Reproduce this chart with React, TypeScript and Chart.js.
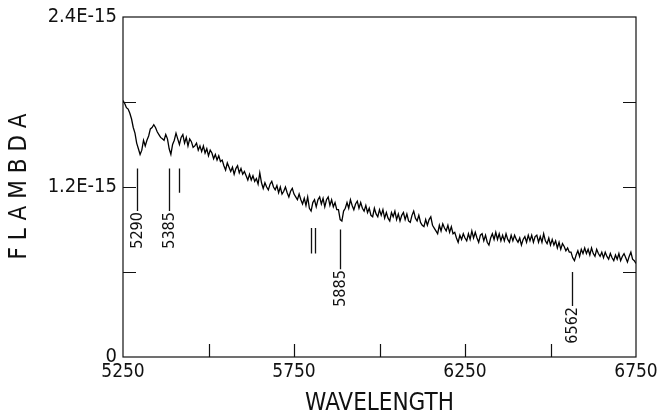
import { useEffect, useRef } from "react";
import { Chart, registerables } from "chart.js";

Chart.register(...registerables);

// Wavelength grid (Angstrom), 5 A step from 5250 to 6750
const WL_START = 5250;
const WL_STEP = 5;

// FLAMBDA values in units of 1E-15 (one row = 100 A)
const FLUX = [
  1.81, 1.79, 1.76, 1.75, 1.72, 1.68, 1.62, 1.58, 1.51, 1.47, 1.43, 1.46, 1.53, 1.49, 1.53, 1.56, 1.61, 1.62, 1.64, 1.62,
  1.59, 1.57, 1.55, 1.54, 1.53, 1.57, 1.54, 1.47, 1.43, 1.50, 1.53, 1.58, 1.54, 1.50, 1.55, 1.57, 1.51, 1.55, 1.49, 1.54,
  1.52, 1.48, 1.49, 1.51, 1.46, 1.49, 1.45, 1.49, 1.44, 1.47, 1.42, 1.46, 1.44, 1.40, 1.43, 1.39, 1.42, 1.38, 1.39, 1.35,
  1.32, 1.37, 1.34, 1.31, 1.34, 1.29, 1.33, 1.35, 1.30, 1.33, 1.29, 1.31, 1.28, 1.25, 1.29, 1.25, 1.28, 1.24, 1.26, 1.22,
  1.30, 1.23, 1.19, 1.23, 1.20, 1.18, 1.22, 1.24, 1.20, 1.18, 1.21, 1.16, 1.20, 1.15, 1.17, 1.20, 1.16, 1.13, 1.17, 1.19,
  1.15, 1.13, 1.11, 1.15, 1.11, 1.08, 1.12, 1.07, 1.13, 1.05, 1.03, 1.09, 1.11, 1.06, 1.11, 1.13, 1.08, 1.12, 1.06, 1.11,
  1.13, 1.07, 1.11, 1.06, 1.09, 1.04, 1.04, 0.97, 0.96, 1.03, 1.05, 1.09, 1.05, 1.11, 1.07, 1.04, 1.08, 1.10, 1.05, 1.09,
  1.05, 1.03, 1.07, 1.02, 1.05, 1.00, 0.99, 1.05, 1.01, 0.99, 1.04, 1.00, 1.04, 0.98, 1.02, 0.98, 0.96, 1.02, 0.99, 1.03,
  0.97, 1.01, 0.96, 1.00, 1.02, 0.97, 1.01, 0.96, 0.95, 1.00, 1.03, 0.98, 0.96, 1.00, 0.95, 0.93, 0.92, 0.97, 0.93, 0.97,
  0.99, 0.93, 0.91, 0.89, 0.87, 0.93, 0.89, 0.94, 0.91, 0.89, 0.93, 0.88, 0.92, 0.87, 0.88, 0.84, 0.81, 0.86, 0.83, 0.87,
  0.84, 0.82, 0.87, 0.83, 0.89, 0.84, 0.88, 0.84, 0.81, 0.86, 0.87, 0.82, 0.86, 0.81, 0.79, 0.84, 0.87, 0.83, 0.88, 0.83,
  0.87, 0.82, 0.86, 0.82, 0.87, 0.83, 0.81, 0.86, 0.82, 0.86, 0.83, 0.81, 0.84, 0.79, 0.83, 0.85, 0.81, 0.86, 0.82, 0.86,
  0.81, 0.85, 0.86, 0.81, 0.85, 0.81, 0.87, 0.82, 0.80, 0.84, 0.79, 0.83, 0.79, 0.82, 0.77, 0.81, 0.76, 0.80, 0.78, 0.75,
  0.77, 0.74, 0.74, 0.70, 0.68, 0.72, 0.75, 0.71, 0.76, 0.73, 0.77, 0.73, 0.76, 0.72, 0.77, 0.73, 0.71, 0.76, 0.73, 0.71,
  0.74, 0.70, 0.74, 0.71, 0.69, 0.73, 0.70, 0.68, 0.72, 0.69, 0.73, 0.68, 0.71, 0.73, 0.70, 0.67, 0.71, 0.74, 0.69, 0.68,
  0.66,
];

const WAVELENGTHS = FLUX.map((_, i) => WL_START + i * WL_STEP);

const X_MIN = 5250;
const X_MAX = 6750;
const X_STEP = 250;
const X_LABELS: Record<number, string> = { 5250: "5250", 5750: "5750", 6250: "6250", 6750: "6750" };

const Y_MIN = 0;
const Y_MAX = 2.4;
const Y_STEP = 0.6;
const Y_LABELS: Record<string, string> = { "0": "0", "1.2": "1.2E-15", "2.4": "2.4E-15" };

// Line identifications
const MARK_WL = [5290, 5385, 5415, 5800, 5811, 5885, 6562];
const MARK_LABEL = ["5290", "5385", "", "", "", "5885", "6562"];
const MARK_TOP = [1.33, 1.33, 1.33, 0.91, 0.91, 0.90, 0.60];
const MARK_BOTTOM = [1.03, 1.03, 1.16, 0.73, 0.73, 0.62, 0.36];

const X_TITLE = "WAVELENGTH";
const Y_TITLE = "FLAMBDA";

const FONT = "'DejaVu Sans Condensed', 'DejaVu Sans', sans-serif";

const framePlugin = {
  id: "framePlugin",
  afterDatasetsDraw(chart: any) {
    const { ctx, chartArea } = chart;
    const { left, right, top, bottom } = chartArea;
    const xs = chart.scales.x;
    const ys = chart.scales.y;
    ctx.save();
    ctx.strokeStyle = "#111";
    ctx.lineWidth = 1.2;
    ctx.strokeRect(left, top, right - left, bottom - top);
    const TL = 13;
    ctx.beginPath();
    ys.ticks.forEach((t: any) => {
      if (t.value <= Y_MIN || t.value >= Y_MAX) return;
      const y = Math.round(ys.getPixelForValue(t.value)) + 0.5;
      ctx.moveTo(left, y);
      ctx.lineTo(left + TL, y);
      ctx.moveTo(right, y);
      ctx.lineTo(right - TL, y);
    });
    xs.ticks.forEach((t: any) => {
      if (t.value <= X_MIN || t.value >= X_MAX) return;
      const x = Math.round(xs.getPixelForValue(t.value)) + 0.5;
      ctx.moveTo(x, bottom);
      ctx.lineTo(x, bottom - TL);
    });
    ctx.stroke();

    // identification marks
    ctx.lineWidth = 1.3;
    ctx.beginPath();
    MARK_WL.forEach((wl, i) => {
      const x = Math.round(xs.getPixelForValue(wl)) + 0.5;
      ctx.moveTo(x, ys.getPixelForValue(MARK_TOP[i]));
      ctx.lineTo(x, ys.getPixelForValue(MARK_BOTTOM[i]));
    });
    ctx.stroke();
    ctx.fillStyle = "#111";
    ctx.font = `16px ${FONT}`;
    MARK_WL.forEach((wl, i) => {
      if (!MARK_LABEL[i]) return;
      const x = xs.getPixelForValue(wl);
      const y = ys.getPixelForValue(MARK_BOTTOM[i]) + 1;
      ctx.save();
      ctx.translate(x, y);
      ctx.rotate(-Math.PI / 2);
      ctx.textAlign = "right";
      ctx.textBaseline = "middle";
      ctx.fillText(MARK_LABEL[i], 0, 1);
      ctx.restore();
    });

    // axis titles
    ctx.font = `24px ${FONT}`;
    ctx.textAlign = "center";
    ctx.textBaseline = "middle";
    ctx.fillText(X_TITLE, (left + right) / 2, 404);
    ctx.save();
    ctx.translate(20, (top + bottom) / 2);
    ctx.rotate(-Math.PI / 2);
    (ctx as any).letterSpacing = "7px";
    ctx.fillText(Y_TITLE, 4, 0);
    ctx.restore();
    ctx.restore();
  },
};

export default function App() {
  const ref = useRef<HTMLCanvasElement>(null);
  useEffect(() => {
    document.body.style.margin = "0";
    const canvas = ref.current!;
    const chart = new Chart(canvas, {
      type: "line",
      data: {
        datasets: [
          {
            data: WAVELENGTHS.map((w, i) => ({ x: w, y: FLUX[i] })),
            borderColor: "#000",
            borderWidth: 1.3,
            pointRadius: 0,
            tension: 0,
            fill: false,
          },
        ],
      },
      options: {
        animation: false,
        responsive: false,
        maintainAspectRatio: false,
        layout: { padding: { left: 0, right: 21, top: 17, bottom: 0 } },
        plugins: { legend: { display: false }, tooltip: { enabled: false } },
        scales: {
          x: {
            type: "linear",
            min: X_MIN,
            max: X_MAX,
            grid: { display: false, drawTicks: false },
            border: { display: false },
            afterFit: (s: any) => {
              s.height = 62;
              s.paddingLeft = 0;
              s.paddingRight = 0;
            },
            ticks: {
              stepSize: X_STEP,
              autoSkip: false,
              maxRotation: 0,
              padding: 4,
              color: "#111",
              font: { family: FONT, size: 19 },
              callback: (v: any) => X_LABELS[Number(v)] ?? "",
            },
          },
          y: {
            min: Y_MIN,
            max: Y_MAX,
            grid: { display: false, drawTicks: false },
            border: { display: false },
            afterFit: (s: any) => {
              s.width = 123;
              s.paddingTop = 0;
              s.paddingBottom = 0;
            },
            ticks: {
              stepSize: Y_STEP,
              autoSkip: false,
              padding: 6,
              color: "#111",
              font: { family: FONT, size: 20 },
              callback: (v: any) => Y_LABELS[String(Math.round(Number(v) * 10) / 10)] ?? "",
            },
          },
        },
      },
      plugins: [framePlugin],
    });
    return () => chart.destroy();
  }, []);
  return (
    <div style={{ position: "absolute", left: 0, top: 0, width: 657, height: 419, background: "#fff" }}>
      <canvas ref={ref} width={657} height={419} style={{ display: "block", width: 657, height: 419 }} />
    </div>
  );
}
